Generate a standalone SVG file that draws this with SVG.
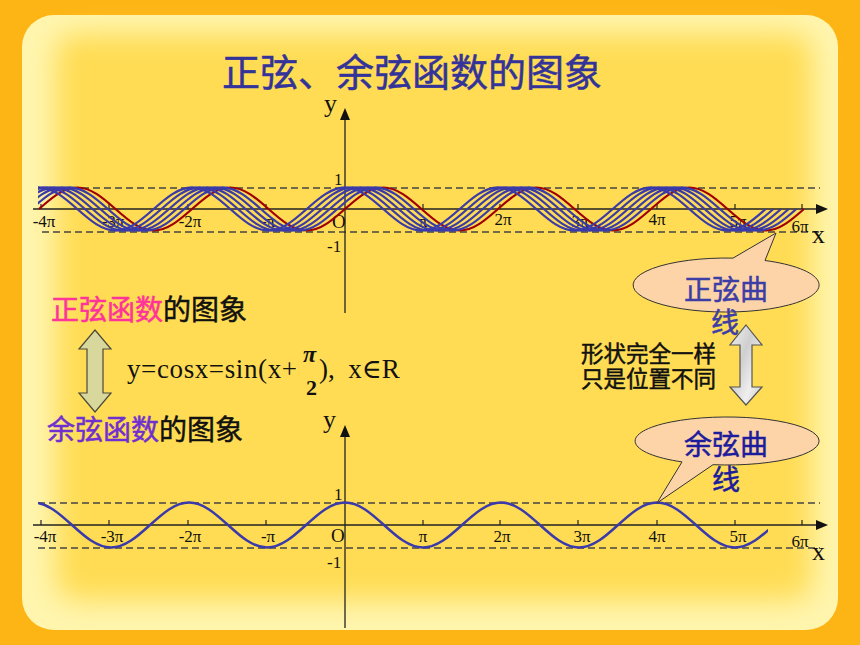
<svg xmlns="http://www.w3.org/2000/svg" xmlns:xlink="http://www.w3.org/1999/xlink" width="860" height="645" viewBox="0 0 860 645">
<style>
.cjk{font-family:"Noto Sans CJK SC","Noto Sans",sans-serif;stroke-width:0.5;}
.tm{font-family:"Liberation Serif","DejaVu Serif",serif;fill:#111;}
.tick{font-family:"Liberation Serif","DejaVu Serif",serif;font-size:17px;fill:#111;text-anchor:middle;}
.axis{stroke:#222;stroke-width:1.3;fill:none;}
.dash{stroke:#444;stroke-width:1.3;stroke-dasharray:7 4;fill:none;}
.tk{stroke:#222;stroke-width:1.2;}
.red{stroke:#A00000;stroke-width:2.2;fill:none;}
.blue{stroke:#3B3BA8;stroke-width:2.3;fill:none;}
.callout{fill:#FCD4A8;stroke:#333;stroke-width:1;}
</style>
<defs>
<filter id="soft" x="-10%" y="-10%" width="120%" height="120%"><feGaussianBlur stdDeviation="14"/></filter>
<linearGradient id="marble" x1="0" y1="0" x2="1" y2="1">
<stop offset="0" stop-color="#f2f2f2"/><stop offset="0.4" stop-color="#cfcfcf"/><stop offset="0.7" stop-color="#efefef"/><stop offset="1" stop-color="#c8c8c8"/>
</linearGradient>
<clipPath id="clipTop"><rect x="38" y="150" width="780" height="120"/></clipPath>
<clipPath id="clipBot"><rect x="38" y="470" width="730" height="120"/></clipPath>
<path id="sinwave" d="M39,209 c12.47,-11.01 24.41,-21.5 38.25,-21.5 c13.84,0 25.78,10.49 38.25,21.5 c12.47,11.01 24.41,21.5 38.25,21.5 c13.84,0 25.78,-10.49 38.25,-21.5 c12.47,-11.01 24.41,-21.5 38.25,-21.5 c13.84,0 25.78,10.49 38.25,21.5 c12.47,11.01 24.41,21.5 38.25,21.5 c13.84,0 25.78,-10.49 38.25,-21.5 c12.47,-11.01 24.41,-21.5 38.25,-21.5 c13.84,0 25.78,10.49 38.25,21.5 c12.47,11.01 24.41,21.5 38.25,21.5 c13.84,0 25.78,-10.49 38.25,-21.5 c12.47,-11.01 24.41,-21.5 38.25,-21.5 c13.84,0 25.78,10.49 38.25,21.5 c12.47,11.01 24.41,21.5 38.25,21.5 c13.84,0 25.78,-10.49 38.25,-21.5 c12.47,-11.01 24.41,-21.5 38.25,-21.5 c13.84,0 25.78,10.49 38.25,21.5 c12.47,11.01 24.41,21.5 38.25,21.5 c13.84,0 25.78,-10.49 38.25,-21.5"/>
</defs>

<g id="background">
<rect width="860" height="645" fill="#FDB515"/>
<rect x="22" y="15" width="816" height="615" rx="32" fill="#FFF5AE"/>
<rect x="56" y="34" width="756" height="566" rx="20" fill="#FFDC52" filter="url(#soft)"/>
</g>

<g id="title">
<text class="cjk" x="222" y="86" font-size="38" fill="#333399" stroke="#333399" stroke-width="0.9">正弦、余弦函数的图象</text>
</g>

<g id="top-graph">
<line class="dash" x1="38" y1="188" x2="820" y2="188"/>
<line class="dash" x1="42" y1="232" x2="820" y2="232"/>
<line class="axis" x1="33" y1="209" x2="818" y2="209"/>
<polygon points="828,209 816,204 816,214" fill="#111"/>
<line class="axis" x1="345" y1="118" x2="345" y2="313"/>
<polygon points="345,108 340,120 350,120" fill="#111"/>
<g class="tk">
<line x1="41" y1="204" x2="41" y2="209"/><line x1="109" y1="204" x2="109" y2="209"/><line x1="188" y1="204" x2="188" y2="209"/><line x1="266" y1="204" x2="266" y2="209"/><line x1="423" y1="204" x2="423" y2="209"/><line x1="500" y1="204" x2="500" y2="209"/><line x1="578" y1="204" x2="578" y2="209"/><line x1="657" y1="204" x2="657" y2="209"/><line x1="735" y1="204" x2="735" y2="209"/><line x1="802" y1="204" x2="802" y2="209"/>
</g>
<text class="tm" x="324" y="112" font-size="26">y</text>
<text class="tm" x="812" y="243" font-size="26">x</text>
<text class="tm" x="334" y="185" font-size="17">1</text>
<text class="tm" x="327" y="252" font-size="17">-1</text>
<text class="tm" x="332" y="228" font-size="19">O</text>
<text class="tick" x="44" y="227">-4π</text>
<text class="tick" x="113" y="227">-3π</text>
<text class="tick" x="190" y="227">-2π</text>
<text class="tick" x="268" y="227">-π</text>
<text class="tick" x="423" y="227">π</text>
<text class="tick" x="503" y="225">2π</text>
<text class="tick" x="580" y="227">3π</text>
<text class="tick" x="657" y="225">4π</text>
<text class="tick" x="738" y="227">5π</text>
<text class="tick" x="800" y="232">6π</text>
<use xlink:href="#sinwave" class="red"/>
<g clip-path="url(#clipTop)" class="blue">
<use xlink:href="#sinwave" transform="translate(-7.65,0)"/>
<use xlink:href="#sinwave" transform="translate(-15.3,0)"/>
<use xlink:href="#sinwave" transform="translate(-22.95,0)"/>
<use xlink:href="#sinwave" transform="translate(-30.6,0)"/>
<use xlink:href="#sinwave" transform="translate(-38.25,0)"/>
</g>
</g>

<g id="bottom-graph">
<line class="dash" x1="38" y1="503" x2="820" y2="503"/>
<line class="dash" x1="38" y1="548" x2="820" y2="548"/>
<line class="axis" x1="33" y1="525" x2="818" y2="525"/>
<polygon points="828,525 816,520 816,530" fill="#111"/>
<line class="axis" x1="345" y1="434" x2="345" y2="628"/>
<polygon points="345,425 340,437 350,437" fill="#111"/>
<g class="tk">
<line x1="41" y1="520" x2="41" y2="525"/><line x1="109" y1="520" x2="109" y2="525"/><line x1="188" y1="520" x2="188" y2="525"/><line x1="266" y1="520" x2="266" y2="525"/><line x1="423" y1="520" x2="423" y2="525"/><line x1="500" y1="520" x2="500" y2="525"/><line x1="578" y1="520" x2="578" y2="525"/><line x1="657" y1="520" x2="657" y2="525"/><line x1="735" y1="520" x2="735" y2="525"/><line x1="802" y1="520" x2="802" y2="525"/>
</g>
<text class="tm" x="323" y="428" font-size="26">y</text>
<text class="tm" x="812" y="560" font-size="26">x</text>
<text class="tm" x="334" y="500" font-size="17">1</text>
<text class="tm" x="327" y="568" font-size="17">-1</text>
<text class="tm" x="331" y="542" font-size="19">O</text>
<text class="tick" x="45" y="542">-4π</text>
<text class="tick" x="112" y="542">-3π</text>
<text class="tick" x="190" y="542">-2π</text>
<text class="tick" x="268" y="542">-π</text>
<text class="tick" x="423" y="542">π</text>
<text class="tick" x="502" y="542">2π</text>
<text class="tick" x="582" y="542">3π</text>
<text class="tick" x="657" y="542">4π</text>
<text class="tick" x="738" y="542">5π</text>
<text class="tick" x="800" y="547">6π</text>
<g clip-path="url(#clipBot)">
<path stroke="#3A3AAA" stroke-width="2.5" fill="none" d="M-6,525 c12.72,-11.53 24.89,-22.5 39,-22.5 c14.11,0 26.28,10.97 39,22.5 c12.72,11.53 24.89,22.5 39,22.5 c14.11,0 26.28,-10.97 39,-22.5 c12.72,-11.53 24.89,-22.5 39,-22.5 c14.11,0 26.28,10.97 39,22.5 c12.72,11.53 24.89,22.5 39,22.5 c14.11,0 26.28,-10.97 39,-22.5 c12.72,-11.53 24.89,-22.5 39,-22.5 c14.11,0 26.28,10.97 39,22.5 c12.72,11.53 24.89,22.5 39,22.5 c14.11,0 26.28,-10.97 39,-22.5 c12.72,-11.53 24.89,-22.5 39,-22.5 c14.11,0 26.28,10.97 39,22.5 c12.72,11.53 24.89,22.5 39,22.5 c14.11,0 26.28,-10.97 39,-22.5 c12.72,-11.53 24.89,-22.5 39,-22.5 c14.11,0 26.28,10.97 39,22.5 c12.72,11.53 24.89,22.5 39,22.5 c14.11,0 26.28,-10.97 39,-22.5"/>
</g>
</g>

<g id="sine-label">
<text class="cjk" x="51" y="320" font-size="28"><tspan fill="#FF3399" stroke="#FF3399">正弦函数</tspan><tspan fill="#111" stroke="#111">的图象</tspan></text>
</g>
<g id="cosine-label">
<text class="cjk" x="47" y="440" font-size="28"><tspan fill="#7030D0" stroke="#7030D0">余弦函数</tspan><tspan fill="#111" stroke="#111">的图象</tspan></text>
</g>

<g id="left-double-arrow">
<path d="M95,330 L111,349 L103,349 L103,393 L111,393 L95,412 L79,393 L87,393 L87,349 L79,349 Z" fill="#D8D89C" stroke="#4a4a3a" stroke-width="1.2"/>
</g>

<g id="formula">
<text class="tm" x="127" y="378" font-size="27" textLength="170" lengthAdjust="spacing">y=cosx=sin(x+</text>
<text class="tm" x="303" y="362" font-size="24" font-weight="bold" font-style="italic">π</text>
<text class="tm" x="306" y="395" font-size="22" font-weight="bold">2</text>
<text class="tm" x="319" y="378" font-size="27" xml:space="preserve">),  x∈R</text>
</g>

<g id="sine-callout">
<path class="callout" d="M733,258.1 L776,233 L765,260.5 A93,27 0 1 1 733,258.1 Z"/>
<text class="cjk" x="684" y="300" font-size="28" fill="#3D3DA6" stroke="#3D3DA6">正弦曲</text>
<text class="cjk" x="711" y="333" font-size="28" fill="#3D3DA6" stroke="#3D3DA6">线</text>
</g>

<g id="note">
<text class="cjk" x="581" y="362" font-size="22.5" fill="#111" stroke="#111">形状完全一样</text>
<text class="cjk" x="581" y="387" font-size="22.5" fill="#111" stroke="#111">只是位置不同</text>
</g>

<g id="right-double-arrow">
<path d="M746,325 L762,345 L752,345 L752,387 L762,387 L746,405 L730,387 L740,387 L740,345 L730,345 Z" fill="url(#marble)" stroke="#555" stroke-width="1.2"/>
</g>

<g id="cosine-callout">
<path class="callout" d="M713,464.7 L657,503 L682,461.9 A92,24 0 1 1 713,464.7 Z"/>
<text class="cjk" x="684" y="455" font-size="28" fill="#1C1C9C" stroke="#1C1C9C">余弦曲</text>
<text class="cjk" x="712" y="490" font-size="28" fill="#1C1C9C" stroke="#1C1C9C">线</text>
</g>
</svg>
